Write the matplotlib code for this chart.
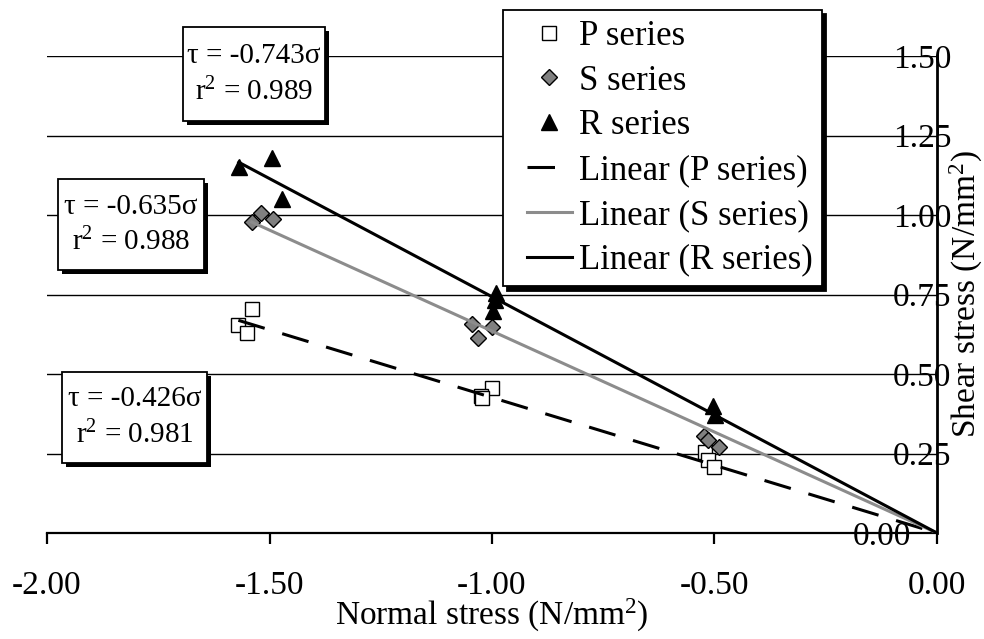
import numpy as np
import matplotlib.pyplot as plt
from matplotlib import patheffects
from matplotlib.patches import Rectangle
from matplotlib.lines import Line2D
from matplotlib.legend_handler import HandlerLine2D
from matplotlib.ticker import FixedLocator, FixedFormatter

plt.rcParams['font.family'] = 'Liberation Serif'
plt.rcParams['mathtext.fontset'] = 'custom'
plt.rcParams['mathtext.rm'] = 'Liberation Serif'
plt.rcParams['mathtext.it'] = 'Liberation Serif:italic'
plt.rcParams['font.size'] = 24

# measured points (normal stress, shear stress), N/mm2
p_x = [-1.540, -1.570, -1.550, -1.000, -1.025, -1.023, -0.521, -0.515, -0.502]
p_y = [0.703, 0.654, 0.628, 0.455, 0.431, 0.424, 0.254, 0.230, 0.208]
s_x = [-1.518, -1.493, -1.540, -1.046, -1.001, -1.031, -0.524, -0.514, -0.489]
s_y = [1.007, 0.986, 0.978, 0.657, 0.647, 0.612, 0.305, 0.292, 0.269]
r_x = [-1.569, -1.495, -1.473, -0.990, -0.993, -0.997, -0.504, -0.499]
r_y = [1.152, 1.178, 1.049, 0.756, 0.733, 0.698, 0.399, 0.371]

# fitted trendlines through the origin
slope_p, r2_p = -0.426, 0.981
slope_s, r2_s = -0.635, 0.988
slope_r, r2_r = -0.743, 0.989

x_ticks = [-2.0, -1.5, -1.0, -0.5, 0.0]
x_tick_labels = ['-2.00', '-1.50', '-1.00', '-0.50', '0.00']
y_ticks = [0.25, 0.50, 0.75, 1.00, 1.25, 1.50]
y_tick_labels = ['0.25', '0.50', '0.75', '1.00', '1.25', '1.50']

W, H = 984, 639
fig = plt.figure(figsize=(W / 100, H / 100), dpi=100)
ax = fig.add_axes([47 / W, 1 - 533 / H, 890 / W, 477 / H])

ax.set_xlim(-2, 0)
ax.set_ylim(0, 1.5)

ps, = ax.plot(p_x, p_y, ls='none', marker='s', ms=10, mfc='white', mec='black',
              mew=1, label='P series', zorder=3, clip_on=False)
ss, = ax.plot(s_x, s_y, ls='none', marker='D', ms=8.5, mfc='#808080', mec='black',
              mew=1, label='S series', zorder=3, clip_on=False)
rs, = ax.plot(r_x, r_y, ls='none', marker='^', ms=11.5, mfc='black', mec='black',
              mew=1, label='R series', zorder=3, clip_on=False)

xp = np.array([min(p_x), 0.0])
xs = np.array([min(s_x), 0.0])
xr = np.array([min(r_x), 0.0])
lp, = ax.plot(xp, slope_p * xp, color='black', lw=2.2, dashes=(9, 6),
              label='Linear (P series)', zorder=4)
ls_, = ax.plot(xs, slope_s * xs, color='#8c8c8c', lw=2.2,
               label='Linear (S series)', zorder=4)
lr, = ax.plot(xr, slope_r * xr, color='black', lw=2.2,
              label='Linear (R series)', zorder=4)

# axes styling
for side in ['top', 'left']:
    ax.spines[side].set_visible(False)
ax.spines['bottom'].set_linewidth(1.6)
ax.spines['right'].set_linewidth(2)

ax.xaxis.set_major_locator(FixedLocator(x_ticks))
ax.xaxis.set_major_formatter(FixedFormatter(x_tick_labels))
ax.tick_params(axis='x', direction='out', length=8, width=1.6, pad=19)

ax.yaxis.tick_right()
ax.yaxis.set_major_locator(FixedLocator(y_ticks))
ax.yaxis.set_major_formatter(FixedFormatter(y_tick_labels))
ax.yaxis.set_minor_locator(FixedLocator([0.0]))
ax.yaxis.set_minor_formatter(FixedFormatter(['0.00']))
ax.tick_params(axis='y', which='major', length=0, pad=-31.5)
ax.tick_params(axis='y', which='minor', length=0, pad=-61, labelsize=24)
ax.yaxis.grid(True, which='major', color='black', lw=1)
ax.set_axisbelow(True)

ax.set_xlabel('Normal stress (N/mm$^2$)', va='baseline')
ax.xaxis.set_label_coords(0.5, -(625 - 533) / 477)
ax.yaxis.set_label_position('right')
ax.set_ylabel('Shear stress (N/mm$^2$)', va='baseline', rotation=90)
ax.yaxis.set_label_coords((976 - 47) / 890, 0.5)

leg = ax.legend(handles=[ps, ss, rs, lp, ls_, lr], loc='upper left',
                bbox_to_anchor=(503 / W, 1 - 10 / H), bbox_transform=fig.transFigure,
                frameon=True, fancybox=False, edgecolor='black', framealpha=1,
                shadow={'ox': 3, 'oy': -3, 'color': 'black', 'alpha': 1},
                borderaxespad=0, borderpad=0.28, labelspacing=0.34, fontsize=25,
                handlelength=1.7, handletextpad=0.2, numpoints=1,
                handler_map={Line2D: HandlerLine2D(xpad=0.4)})
leg.get_frame().set_linewidth(1.3)
leg.set_zorder(10)

# equation boxes: (left, top, right, bottom) in pixels
boxes = [(183, 27, 325, 121), (58, 179, 204, 270), (62, 372, 207, 463)]
fits = [(slope_r, r2_r), (slope_s, r2_s), (slope_p, r2_p)]
for (x0, y0, x1, y1), (k, r2) in zip(boxes, fits):
    rect = Rectangle((x0 / W, 1 - y1 / H), (x1 - x0) / W, (y1 - y0) / H,
                     transform=fig.transFigure, facecolor='white', edgecolor='black',
                     lw=1.3, zorder=8,
                     path_effects=[patheffects.withSimplePatchShadow(
                         offset=(3, -3), shadow_rgbFace='black', alpha=1)])
    fig.add_artist(rect)
    cx = (x0 + x1) / 2 / W
    yc = (y0 + y1) / 2
    fig.text(cx, 1 - (yc - 18) / H, 'τ = %.3fσ' % k, ha='center', va='center',
             fontsize=21, zorder=9)
    fig.text(cx, 1 - (yc + 18) / H, 'r$^\\mathregular{2}$ = %.3f' % r2,
             ha='center', va='center', fontsize=21, zorder=9)

fig.savefig('out.png', dpi=100)
